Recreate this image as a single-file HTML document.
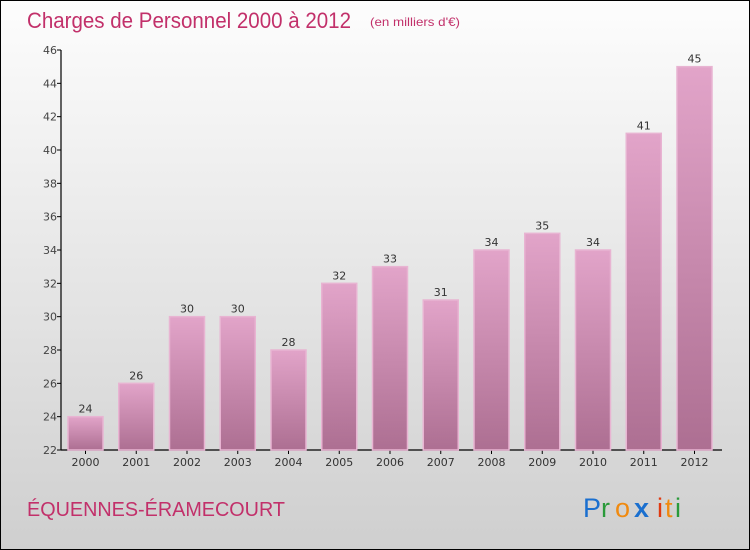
<!DOCTYPE html>
<html><head><meta charset="utf-8">
<style>
html,body{margin:0;padding:0;}
body{width:750px;height:550px;overflow:hidden;font-family:"DejaVu Sans","Liberation Sans",sans-serif;}
#wrap{position:absolute;left:0;top:0;width:748px;height:548px;border:1px solid #000;background:linear-gradient(#fdfdfd,#e6e6e6 50%,#cfcfcf);}
</style></head><body>
<div id="wrap">
<svg width="750" height="550" style="position:absolute;left:-1px;top:-1px">
<defs>
<linearGradient id="bg" x1="0" y1="0" x2="0" y2="1"><stop offset="0" stop-color="#e2a4c9"/><stop offset="1" stop-color="#ad6f92"/></linearGradient>
</defs>
<text x="27" y="28" font-size="22" fill="#c2306a" font-family="Liberation Sans, sans-serif" textLength="324" lengthAdjust="spacingAndGlyphs">Charges de Personnel 2000 à 2012</text>
<text x="370" y="26" font-size="12" fill="#c2306a" font-family="Liberation Sans, sans-serif" textLength="90" lengthAdjust="spacingAndGlyphs">(en milliers d'€)</text>
<g id="axes"></g>
<g id="bars"></g>
<text x="27" y="516" font-size="20" fill="#c2306a" font-family="Liberation Sans, sans-serif" textLength="258" lengthAdjust="spacingAndGlyphs">ÉQUENNES-ÉRAMECOURT</text>
<g font-size="27" font-family="Liberation Sans, sans-serif">
<text x="583" y="517" fill="#1a6fcf">P</text><text x="601" y="517" fill="#2a9a3a">r</text><text x="615" y="517" fill="#f08a10">o</text><text x="634" y="517" fill="#1a6fcf" font-weight="bold">x</text><text x="657" y="517" fill="#e03a10">i</text><text x="665" y="517" fill="#f08a10">t</text><text x="675" y="517" fill="#2a9a3a">i</text>
</g>
</svg>
</div>
<script>
const years=["2000","2001","2002","2003","2004","2005","2006","2007","2008","2009","2010","2011","2012"];
const values=[24,26,30,30,28,32,33,31,34,35,34,41,45];
const yTicks=[22,24,26,28,30,32,34,36,38,40,42,44,46];
const NS="http://www.w3.org/2000/svg";
const yMin=22,yMax=46,y0=450,y1=50,xStart=85.5,step=50.75,bw=35,axisX=61;
function yS(v){return y0-(v-yMin)/(yMax-yMin)*(y0-y1);}
function xS(i){return xStart+i*step;}
function mk(t,a,p){const e=document.createElementNS(NS,t);for(const k in a)e.setAttribute(k,a[k]);p.appendChild(e);return e;}
const ax=document.getElementById('axes'),bars=document.getElementById('bars');
const yl=mk('line',{x1:axisX,y1:y1,x2:axisX,y2:y0,stroke:'#000','stroke-width':1.2},ax);


const xl=mk('line',{x1:axisX,y1:y0,x2:722,y2:y0,stroke:'#000','stroke-width':1.2},ax);


yTicks.forEach(v=>{
 mk('line',{x1:axisX-4,y1:yS(v),x2:axisX,y2:yS(v),stroke:'#000'},ax);
 const t=mk('text',{x:axisX-4,y:yS(v)+4,'font-size':11,fill:'#444','text-anchor':'end'},ax);
 t.textContent=v;
 
 
});
years.forEach((yr,i)=>{
 const cx=xS(i),top=yS(values[i]);
 mk('line',{x1:cx,y1:y0,x2:cx,y2:y0+4,stroke:'#000'},ax);
 const r=mk('rect',{x:cx-bw/2,y:top,width:bw,height:y0-top,fill:'url(#bg)',stroke:'#e8b4d2','stroke-width':1.5},bars);
 
 
 const l=mk('text',{x:cx,y:top-4,'font-size':11,fill:'#333','text-anchor':'middle'},bars);
 l.textContent=values[i];
 
 
 const xt=mk('text',{x:cx,y:y0+16,'font-size':11,fill:'#333','text-anchor':'middle'},ax);
 xt.textContent=yr;
 
 
});
</script>
</body></html>
